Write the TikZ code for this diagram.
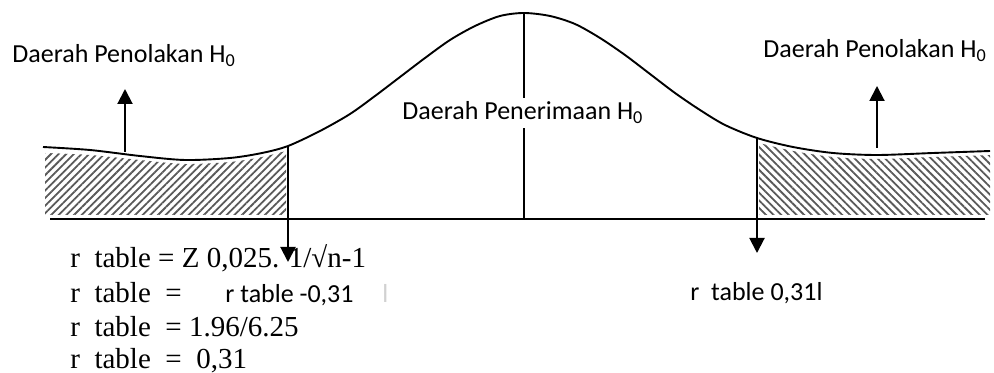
\documentclass[tikz,border=0pt]{standalone}
\usepackage{fontspec}
\setmainfont{Liberation Serif}
\newfontfamily\calibri{Carlito}
\usetikzlibrary{arrows.meta, patterns.meta}

\begin{document}
\begin{tikzpicture}[x=0.5pt, y=-0.5pt,
  lbl/.style={font=\calibri\fontsize{13}{15}\selectfont, inner sep=0pt, anchor=base west},
  rmline/.style={font=\fontsize{14.5}{17}\selectfont, inner sep=0pt, anchor=base west},
  tip/.style={-{Triangle[length=7.5pt, width=7.5pt]}, line width=1pt},
  hatch/.style={pattern={Lines[angle=#1, distance=2.7pt, line width=0.9pt]}, pattern color=black!65}]
  \useasboundingbox (0,0) rectangle (994,373);

  % hatched rejection regions
  \fill[hatch=45] (45,215) -- plot[smooth, tension=0.5] coordinates {(45,153) (90,155) (140,160) (185,164) (230,162) (262,157) (286,151)} -- (286,215) -- cycle;
  \fill[hatch=-45] (759,215) -- plot[smooth, tension=0.5] coordinates {(759,143) (793,151) (833,157) (877,159) (933,157) (990,155)} -- (990,215) -- cycle;

  % curve and base line
  \draw[line width=0.95pt] plot[smooth, tension=0.5] coordinates {(43,147) (90,150) (140,156) (185,160) (230,158) (262,153) (288,146) (320,131) (350,114) (375,96) (400,77) (425,58) (450,40) (475,26) (500,16) (524,13) (550,16) (575,24) (600,38) (625,55) (650,74) (675,93) (700,110) (725,125) (757,138) (793,147) (833,153) (877,155) (933,153) (990,151)};
  \coordinate (baseL) at (50,219);
  \coordinate (baseR) at (985,219);
  \draw[line width=0.95pt] (baseL) -- (baseR);

  % centre line and labels
  \coordinate (peak) at (524,13);
  \coordinate (mid) at (524,218);
  \draw[line width=0.95pt] (peak) -- (mid);
  \node[lbl, fill=white, inner sep=2pt] (terima) at (398,120) {Daerah Penerimaan H\textsubscript{0}};
  \node[lbl] (tolakL) at (12,63) {Daerah Penolakan H\textsubscript{0}};
  \node[lbl] (tolakR) at (763,58) {Daerah Penolakan H\textsubscript{0}};

  % arrows
  \coordinate (upL0) at (125,152);
  \coordinate (upL1) at (125,89);
  \coordinate (upR0) at (877,148);
  \coordinate (upR1) at (877,86);
  \draw[tip] (upL0) -- (upL1);
  \draw[tip] (upR0) -- (upR1);
  \coordinate (cutL0) at (288,146);
  \coordinate (cutL1) at (288,262);
  \coordinate (cutR0) at (757,138);
  \coordinate (cutR1) at (757,253);

  % r table computation
  \node[rmline] (rt1) at (70,268) {r~~table = Z 0,025. 1/√n-1};
  \node[rmline] (rt2) at (70,302) {r~~table~~=};
  \node[lbl] (rt2b) at (225,302) {r table -0,31};
  \node[lbl, text=black!18] (rt2c) at (382,302) {l};
  \node[rmline] (rt3) at (70,336) {r~~table~~= 1.96/6.25};
  \node[rmline] (rt4) at (70,368) {r~~table~~=~~0,31};
  \node[lbl] (rtR) at (690,300) {r~~table 0,31l};

  \draw[tip] (cutL0) -- (cutL1);
  \draw[tip] (cutR0) -- (cutR1);
\end{tikzpicture}
\end{document}
